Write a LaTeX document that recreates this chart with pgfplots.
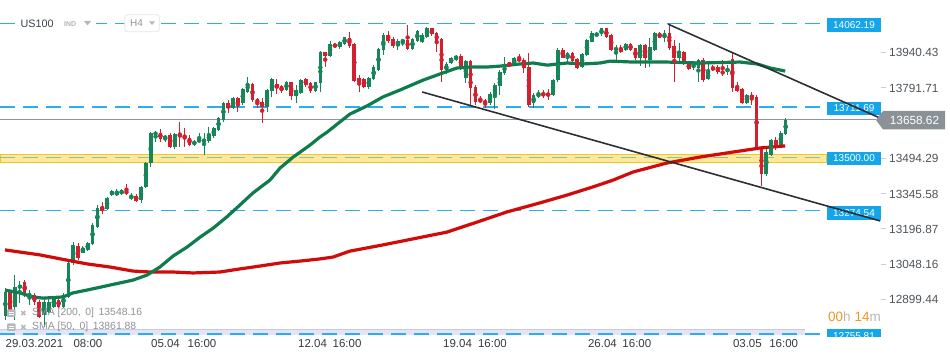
\documentclass[border=0pt]{standalone}
\usepackage{pgfplots}
\pgfplotsset{compat=1.18}
\usepackage{pgfplotstable}
\usepackage{fontspec}
\setmainfont{Liberation Sans}
\newfontfamily\dejavu{DejaVu Sans}
\definecolor{cgreen}{HTML}{17845A}
\definecolor{cred}{HTML}{D3202F}
\definecolor{smagreen}{HTML}{0E7C4C}
\definecolor{smared}{HTML}{D10A0A}
\definecolor{lvl}{HTML}{2BAEEF}
\definecolor{boxblue}{HTML}{14A5EA}
\definecolor{pline}{HTML}{8D969C}
\definecolor{trend}{HTML}{2C3034}
\definecolor{bandfill}{HTML}{FCE9A0}
\definecolor{bandedge}{HTML}{F3C81A}
\definecolor{banddash}{HTML}{93BC9C}
\definecolor{ticklab}{HTML}{4D5358}
\definecolor{tickdash}{HTML}{C9CDD1}
\definecolor{datelab}{HTML}{333B42}
\definecolor{stripc}{HTML}{E3E5F4}
\definecolor{stripedge}{HTML}{C6CAE4}
\definecolor{tagc}{HTML}{8A9297}
\definecolor{legc}{HTML}{8E9296}
\definecolor{orangec}{HTML}{F7931E}
\definecolor{hgray}{HTML}{B4B8BC}
\newcommand{\yl}[1]{\textcolor{tickdash}{\rule[4.1bp]{5bp}{0.8bp}}\hspace{3bp}#1}

\pgfplotstableread{
i o h l c
0 12832 12949 12815 12933
1 12933 12941 12836 12857
2 12870 13004 12815 12954
3 12949 12979 12886 12962
4 12975 12983 12912 12929
5 12907 12941 12878 12929
6 12920 12929 12878 12891
7 12891 12899 12824 12828
8 12836 12907 12786 12891
9 12849 12907 12845 12891
10 12870 12912 12866 12907
11 12899 12907 12866 12870
12 12870 12929 12866 12920
13 12912 13059 12907 13055
14 13055 13143 13046 13131
15 13127 13139 13067 13076
16 13097 13127 13097 13118
17 13110 13143 13105 13139
18 13135 13223 13131 13215
19 13206 13299 13202 13286
20 13291 13312 13261 13274
21 13282 13333 13278 13328
22 13341 13362 13337 13358
23 13341 13366 13337 13354
24 13345 13366 13341 13362
25 13362 13387 13341 13345
26 13324 13349 13320 13341
27 13337 13345 13312 13316
28 13320 13379 13307 13375
29 13375 13480 13370 13476
30 13476 13606 13459 13602
31 13594 13611 13564 13606
32 13602 13619 13564 13577
33 13577 13594 13564 13590
34 13594 13602 13539 13543
35 13543 13602 13535 13598
36 13598 13649 13543 13585
37 13594 13623 13543 13581
38 13581 13594 13548 13552
39 13552 13573 13548 13569
40 13564 13602 13560 13577
41 13564 13602 13510 13577
42 13569 13627 13560 13598
43 13590 13627 13581 13623
44 13615 13669 13611 13665
45 13657 13733 13649 13728
46 13728 13741 13686 13707
47 13707 13754 13703 13749
48 13749 13754 13691 13728
49 13728 13792 13720 13787
50 13775 13838 13771 13813
51 13808 13813 13733 13741
52 13745 13749 13707 13728
53 13733 13749 13644 13712
54 13712 13787 13691 13783
55 13779 13834 13754 13829
56 13808 13829 13766 13792
57 13800 13804 13771 13779
58 13783 13821 13779 13817
59 13817 13817 13741 13758
60 13758 13804 13728 13783
61 13771 13829 13766 13825
62 13829 13834 13796 13804
63 13813 13817 13771 13779
64 13779 13817 13775 13817
65 13813 13947 13775 13943
66 13943 13943 13880 13926
67 13926 13989 13922 13977
68 13977 13981 13960 13964
69 13964 13989 13956 13985
70 13977 14006 13973 14006
71 14002 14027 13960 13968
72 13977 13981 13817 13821
73 13834 13846 13775 13817
74 13829 13834 13792 13796
75 13796 13838 13787 13834
76 13829 13888 13825 13880
77 13867 13960 13863 13956
78 13952 14023 13930 14015
79 14015 14032 13981 13989
80 13998 14006 13960 13968
81 13968 13998 13952 13989
82 13985 13998 13968 13994
83 13994 14057 13952 13956
84 13956 14002 13952 13998
85 13989 14036 13985 14032
86 13985 14023 13981 14015
87 14006 14048 14002 14044
88 14044 14044 14011 14019
89 14023 14027 13943 13989
90 13998 14002 13817 13867
91 13867 13901 13851 13893
92 13897 13922 13893 13918
93 13914 13930 13905 13926
94 13926 13935 13867 13876
95 13834 13909 13813 13905
96 13905 13909 13720 13792
97 13796 13804 13720 13733
98 13745 13758 13728 13733
99 13737 13745 13707 13728
100 13728 13775 13720 13766
101 13762 13813 13703 13804
102 13800 13867 13762 13859
103 13855 13922 13846 13888
104 13901 13901 13880 13884
105 13893 13922 13884 13918
106 13918 13935 13901 13905
107 13909 13918 13855 13876
108 13880 13939 13712 13720
109 13728 13771 13707 13762
110 13754 13783 13749 13771
111 13771 13783 13749 13758
112 13771 13787 13741 13758
113 13762 13829 13758 13825
114 13825 13960 13817 13952
115 13952 13960 13918 13918
116 13918 13943 13901 13939
117 13939 13943 13901 13905
118 13914 13918 13872 13876
119 13880 13939 13876 13935
120 13930 13998 13926 13994
121 13985 14032 13985 14023
122 14011 14027 14006 14023
123 14019 14044 14011 14044
124 14044 14044 14002 14006
125 14015 14019 13947 13952
126 13952 13973 13909 13960
127 13960 13973 13939 13943
128 13952 13981 13947 13977
129 13977 13981 13947 13952
130 13960 13960 13909 13918
131 13918 13977 13884 13973
132 13973 13977 13876 13918
133 13909 14002 13880 13964
134 13952 14027 13947 14023
135 14023 14027 14002 14002
136 14002 14036 13985 14023
137 14023 14057 13952 13960
138 13968 13994 13817 13918
139 13918 13981 13901 13943
140 13943 13947 13888 13897
141 13893 13901 13867 13872
142 13884 13901 13867 13897
143 13876 13914 13817 13909
144 13909 13918 13817 13825
145 13829 13901 13825 13859
146 13880 13888 13863 13867
147 13880 13888 13851 13859
148 13863 13909 13842 13851
149 13859 13888 13846 13876
150 13914 13943 13775 13792
151 13796 13817 13775 13779
152 13787 13792 13724 13728
153 13728 13766 13724 13762
154 13762 13775 13720 13749
155 13754 13762 13531 13539
156 13543 13548 13379 13430
157 13430 13543 13421 13522
158 13510 13577 13505 13573
159 13573 13585 13531 13552
160 13552 13611 13548 13602
161 13598 13665 13594 13659
}\candles

\begin{document}
\begin{tikzpicture}
\useasboundingbox (0,-26bp) rectangle (950bp,335bp);
\fill[stripc] (0,0) rectangle (805bp,6bp);
\draw[stripedge, line width=0.8bp] (0,6bp) -- (805bp,6bp);
% price boxes (drawn first so that lines pass over them)
\begin{scope}[x=1bp, y=-1bp, yshift=335bp]
  \tikzset{pbox/.style={fill=boxblue, text=white, font=\fontsize{10bp}{11bp}\selectfont, minimum width=54bp, minimum height=13.5bp, inner sep=0pt}}
  \node[pbox] at (854,25) {14062.19};
  \node[pbox] at (854,108.5) {13711.69};
  \node[pbox] at (854,158.3) {13500.00};
  \node[pbox] at (854,213) {13274.54};
  \begin{scope}
    \clip (826,325) rectangle (882,336.5);
    \node[pbox] at (854,336) {12755.81};
  \end{scope}
\end{scope}
\begin{axis}[
  scale only axis, width=815bp, height=335bp, at={(0,0)}, anchor=south west,
  xmin=-1.0935, xmax=167.05, ymin=12751.8, ymax=14162.3,
  clip=false, scaled x ticks=false, scaled y ticks=false,
  axis line style={draw=none}, major tick length=0pt,
  xtick={6.02,17.06,33.05,40.58,63.38,70.5,93.3,100.5,123.2,130.3,153.1,160.6},
  xticklabels={29.03.2021,08:00,05.04,16:00,12.04,16:00,19.04,16:00,26.04,16:00,03.05,16:00},
  xticklabel style={font=\fontsize{11.5bp}{13bp}\selectfont, text=datelab, anchor=north, inner sep=0pt, yshift=-4.5bp},
  yticklabel pos=right,
  ytick={12750.73,12899.44,13048.16,13196.87,13345.58,13494.29,13791.71,13940.43},
  yticklabels={\raisebox{4bp}[\height][\depth]{\yl{12750.73}},\yl{12899.44},\yl{13048.16},\yl{13196.87},\yl{13345.58},\yl{13494.29},\yl{13791.71},\yl{13940.43}},
  yticklabel style={font=\fontsize{11.8bp}{13bp}\selectfont, text=ticklab, anchor=west, inner sep=0pt, xshift=66bp},
]
% levels
\addplot[color=lvl, line width=1.3bp, dash pattern=on 15bp off 8bp, forget plot] coordinates {(-1.0935,14062.19)(169.3,14062.19)};
\addplot[color=lvl, line width=1.3bp, dash pattern=on 15bp off 8bp, forget plot] coordinates {(-1.0935,13711.69)(169.3,13711.69)};
\addplot[color=lvl, line width=1.3bp, dash pattern=on 15bp off 8bp, forget plot] coordinates {(-1.0935,13274.54)(169.3,13274.54)};
\addplot[color=lvl, line width=1.3bp, dash pattern=on 15bp off 8bp, forget plot] coordinates {(-1.0935,12755.81)(169.3,12755.81)};
% support / resistance band
\addplot[fill=bandfill, draw=bandedge, line width=0.8bp, forget plot] coordinates {(-1.0935,13477)(169.3,13477)(169.3,13511)(-1.0935,13511)(-1.0935,13477)};
\addplot[color=banddash, line width=1bp, dash pattern=on 15bp off 8bp, forget plot] coordinates {(-1.0935,13500)(169.3,13500)};
\addplot[color=pline, line width=0.9bp, forget plot] coordinates {(-1.0935,13658.62)(179.6,13658.62)};
% candles: wicks
\addplot[only marks, mark=none, cgreen, forget plot,
  restrict expr to domain={\thisrow{c}-\thisrow{o}}{0:100000},
  error bars/.cd, y dir=both, y explicit, error mark=none,
  error bar style={line width=1bp, cgreen}]
  table[x=i, y expr={(\thisrow{h}+\thisrow{l})/2}, y error expr={(\thisrow{h}-\thisrow{l})/2}] {\candles};
\addplot[only marks, mark=none, cred, forget plot,
  restrict expr to domain={\thisrow{c}-\thisrow{o}}{-100000:-0.001},
  error bars/.cd, y dir=both, y explicit, error mark=none,
  error bar style={line width=1bp, cred}]
  table[x=i, y expr={(\thisrow{h}+\thisrow{l})/2}, y error expr={(\thisrow{h}-\thisrow{l})/2}] {\candles};
% candles: bodies
\addplot[only marks, mark=none, cgreen, forget plot,
  restrict expr to domain={\thisrow{c}-\thisrow{o}}{0:100000},
  error bars/.cd, y dir=both, y explicit, error mark=none,
  error bar style={line width=3.6bp, cgreen}]
  table[x=i, y expr={(\thisrow{o}+\thisrow{c})/2}, y error expr={abs(\thisrow{c}-\thisrow{o})/2}] {\candles};
\addplot[only marks, mark=none, cred, forget plot,
  restrict expr to domain={\thisrow{c}-\thisrow{o}}{-100000:-0.001},
  error bars/.cd, y dir=both, y explicit, error mark=none,
  error bar style={line width=3.6bp, cred}]
  table[x=i, y expr={(\thisrow{o}+\thisrow{c})/2}, y error expr={abs(\thisrow{c}-\thisrow{o})/2}] {\candles};
% SMA 200
\addplot[smared, line width=3.2bp, line join=round, forget plot] coordinates {
(-0.06,13110)(3.03,13101)(7.16,13089)(12.7,13067)(16.9,13051)(21.6,13038)(26.35,13021)(29.9,13017)(34.6,13017)(38.7,13013)(44.3,13017)(48.4,13030)(52.5,13042)(56.7,13055)(60.8,13063)(64.9,13072)(67.6,13080)(71.1,13105)(77.9,13131)(85.0,13160)(91.1,13185)(97.3,13227)(103.5,13270)(110.3,13308)(115.9,13341)(121.2,13375)(125.4,13404)(129.5,13438)(136.5,13476)(143.3,13501)(150.1,13522)(155.7,13539)(160.9,13548)};
% SMA 50
\addplot[smagreen, line width=3.2bp, line join=round, forget plot] coordinates {
(-0.06,12941)(3.03,12929)(5.72,12912)(7.78,12907)(11.9,12912)(13.97,12929)(16.86,12941)(21.6,12962)(26.35,12983)(29.23,13004)(31.9,13038)(34.6,13084)(37.5,13122)(40.2,13164)(42.9,13202)(45.7,13249)(48.4,13299)(51.1,13350)(54.6,13404)(56.7,13455)(59.4,13501)(62.9,13552)(64.9,13585)(66.4,13606)(69.05,13649)(71.1,13682)(74.6,13716)(77.9,13754)(81.4,13783)(86.2,13825)(89.7,13851)(93.2,13876)(95.9,13880)(99.4,13880)(102.1,13884)(106.2,13893)(108.9,13897)(111.8,13888)(115.9,13897)(119.2,13893)(122.7,13897)(124.8,13905)(129.5,13901)(136.5,13901)(143.3,13897)(151.6,13901)(155.1,13893)(157.8,13876)(160.9,13863)};
% trend lines
\addplot[trend, line width=1.6bp, forget plot] coordinates {(136.7,14061)(180.5,13665)};
\addplot[trend, line width=1.6bp, forget plot] coordinates {(86.0,13775)(180.5,13232)};
\end{axis}
\begin{scope}[x=1bp, y=-1bp, yshift=335bp]
  % current price tag
  \fill[tagc] (876,120) -- (883,111) -- (945,111) -- (945,129.5) -- (883,129.5) -- cycle;
  \node[text=white, font=\fontsize{11.8bp}{13bp}\selectfont, inner sep=0pt] at (914.5,120.3) {13658.62};
  % timer
  \node[font=\fontsize{13.5bp}{15bp}\selectfont, inner sep=0pt] at (854.5,316.5) {\textcolor{orangec}{00}\textcolor{hgray}{h} \textcolor{orangec}{14}\textcolor{hgray}{m}};
  % indicator legend
  \fill[hgray, rounded corners=0.8bp] (7,309.5) rectangle (15.5,317);
  \draw[white, line width=0.6bp] (8.5,312) -- (14,312) (8.5,314.5) -- (14,314.5);
  \node[text=hgray, font=\dejavu\fontsize{8bp}{9bp}\selectfont, inner sep=0pt] at (23.5,313.3) {✖};
  \node[anchor=west, text=legc, font=\fontsize{10.4bp}{12bp}\selectfont, inner sep=0pt] at (32,313.3) {SMA [200,\, 0]\, 13548.16};
  \fill[hgray, rounded corners=0.8bp] (7,323.5) rectangle (15.5,331);
  \draw[white, line width=0.6bp] (8.5,326) -- (14,326) (8.5,328.5) -- (14,328.5);
  \node[text=hgray, font=\dejavu\fontsize{8bp}{9bp}\selectfont, inner sep=0pt] at (23.5,327.3) {✖};
  \node[anchor=west, text=legc, font=\fontsize{10.4bp}{12bp}\selectfont, inner sep=0pt] at (32,327.3) {SMA [50,\, 0]\, 13861.88};
  % instrument header
  \fill[white] (18,16) rectangle (96,31);
  \node[anchor=west, text={rgb,255:red,58;green,68;blue,78}, font=\fontsize{10.8bp}{12bp}\selectfont, inner sep=0pt] at (20.5,23.8) {US100};
  \node[anchor=west, text={rgb,255:red,176;green,181;blue,186}, font=\bfseries\fontsize{7bp}{8bp}\selectfont, inner sep=0pt] at (64,24.3) {IND};
  \fill[hgray] (84,21) -- (91,21) -- (87.5,25.5) -- cycle;
  \draw[draw={rgb,255:red,227;green,230;blue,233}, fill=white, rounded corners=2.5bp, line width=0.8bp] (124.7,14.7) rectangle (159.3,31.7);
  \node[anchor=west, text={rgb,255:red,143;green,150;blue,156}, font=\fontsize{10bp}{11bp}\selectfont, inner sep=0pt] at (130,23.5) {H4};
  \fill[hgray] (149,21.5) -- (155,21.5) -- (152,25) -- cycle;
\end{scope}
\end{tikzpicture}
\end{document}
